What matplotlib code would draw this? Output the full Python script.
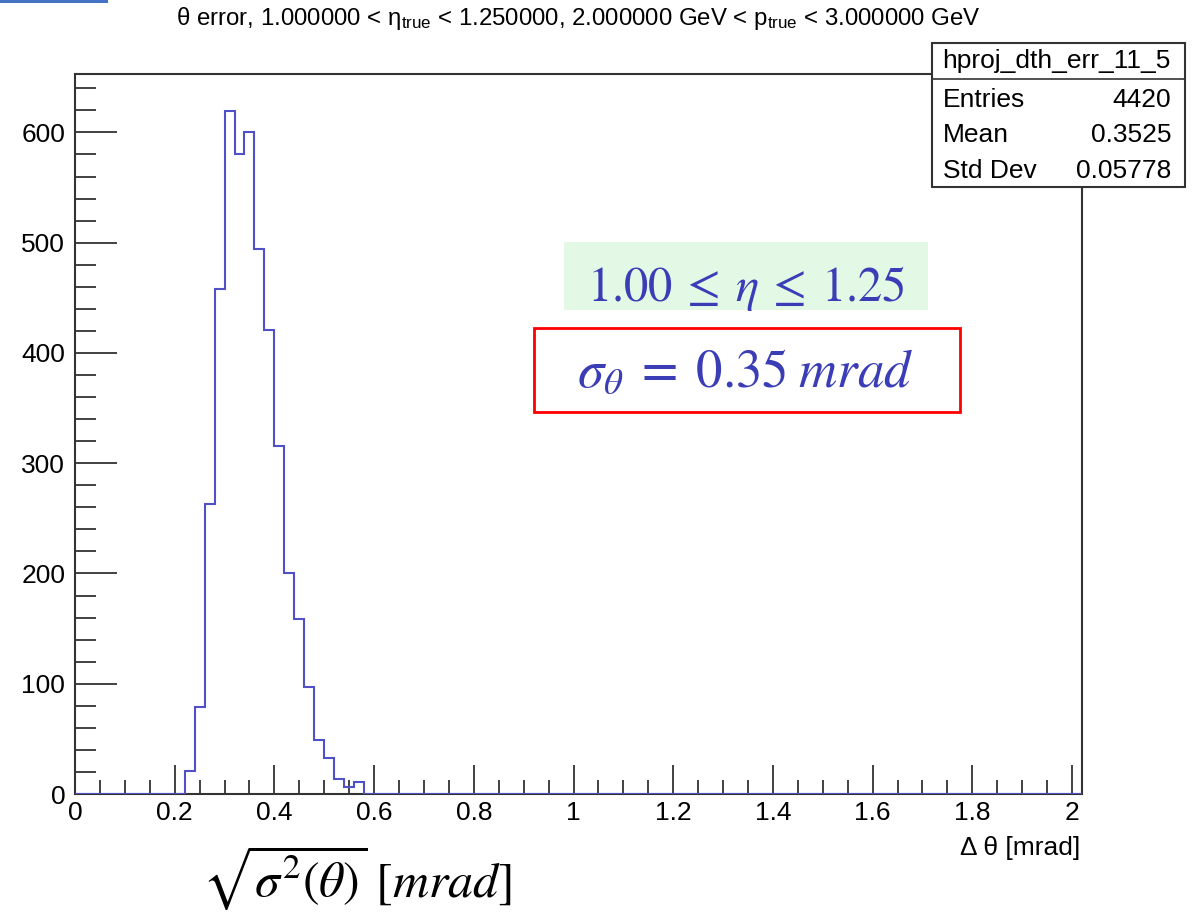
import numpy as np
from matplotlib import pyplot as plt
from matplotlib.patches import Rectangle
from matplotlib.lines import Line2D
from matplotlib.ticker import MultipleLocator

plt.rcParams['font.family'] = ['Liberation Sans', 'DejaVu Sans']

# histogram content (bin lower edge in mrad, counts), bin width 0.02
bin_lo = [0.22, 0.24, 0.26, 0.28, 0.30, 0.32, 0.34, 0.36, 0.38, 0.40,
          0.42, 0.44, 0.46, 0.48, 0.50, 0.52, 0.54, 0.56]
counts = [21, 79, 263, 458, 619, 580, 600, 494, 421, 316,
          200, 159, 97, 49, 33, 14, 6, 11]
n_bins = 101
bin_width = 0.02

stats_name = 'hproj_dth_err_11_5'
stats_rows = [('Entries', '4420'), ('Mean', '0.3525'), ('Std Dev', '0.05778')]

W, H = 1199, 915


def fx(px):
    return px / W


def fy(py):
    return 1 - py / H


fig = plt.figure(figsize=(W / 100, H / 100), dpi=100)
ax = fig.add_axes([fx(75), fy(794), fx(1082) - fx(75), fy(74) - fy(794)])

edges = np.arange(n_bins + 1) * bin_width
full = np.zeros(n_bins)
for lo, c in zip(bin_lo, counts):
    full[int(round(lo / bin_width))] = c
ax.stairs(full, edges, baseline=0, color='#5050c8', lw=1.5, zorder=3)

ax.set_xlim(0, 2.02)
ax.set_ylim(0, 653)
ax.xaxis.set_major_locator(MultipleLocator(0.2))
ax.xaxis.set_minor_locator(MultipleLocator(0.05))
ax.yaxis.set_major_locator(MultipleLocator(100))
ax.yaxis.set_minor_locator(MultipleLocator(20))
ax.xaxis.set_major_formatter(lambda v, p: f'{v:g}')
ax.tick_params(axis='both', which='both', direction='in', colors='#333333',
               labelcolor='black', labelsize=19, width=1.3)
ax.tick_params(axis='x', which='major', length=21, pad=5)
ax.tick_params(axis='x', which='minor', length=10)
ax.tick_params(axis='y', which='major', length=30, pad=7)
ax.tick_params(axis='y', which='minor', length=15)
for s in ax.spines.values():
    s.set_color('#333333')
    s.set_linewidth(1.5)

fig.text(0.482, fy(18),
         r'θ error, 1.000000 < $\mathregular{\eta_{true}}$ < 1.250000, '
         r'2.000000 GeV < $\mathregular{p_{true}}$ < 3.000000 GeV',
         ha='center', va='center', fontsize=17.3)

fig.text(fx(1080), fy(848), 'Δ θ [mrad]', ha='right', va='center', fontsize=19)

# stats box
fig.patches.append(Rectangle((fx(932), fy(187)), fx(1185) - fx(932), fy(43) - fy(187),
                             transform=fig.transFigure, facecolor='white',
                             edgecolor='#333333', lw=1.5, zorder=5))
fig.add_artist(Line2D([fx(932), fx(1185)], [fy(79), fy(79)], color='#333333',
                      lw=1.2, zorder=6))
fig.text(fx(1056), fy(61), stats_name, ha='center', va='center', fontsize=19, zorder=7)
for i, (k, v) in enumerate(stats_rows):
    y = fy(100 + 35.5 * i)
    fig.text(fx(943), y, k, ha='left', va='center', fontsize=19, zorder=7)
    fig.text(fx(1171), y, v, ha='right', va='center', fontsize=19, zorder=7)

# annotations
fig.patches.append(Rectangle((fx(564), fy(310)), fx(928) - fx(564), fy(242) - fy(310),
                             transform=fig.transFigure, facecolor='#e3f9e5',
                             edgecolor='none', zorder=4))
fig.text(fx(746), fy(288), r'$1.00\:\leq\:\eta\:\leq\:1.25$', ha='center', va='center',
         fontsize=35, color='#3a3db5', math_fontfamily='stix', zorder=7)
fig.patches.append(Rectangle((fx(534), fy(412)), fx(960) - fx(534), fy(328) - fy(412),
                             transform=fig.transFigure, facecolor='white',
                             edgecolor='#ff0000', lw=2, zorder=4))
fig.text(fx(745), fy(373), r'$\sigma_\theta\;=\;0.35\;mrad$', ha='center', va='center',
         fontsize=38, color='#3a3db5', math_fontfamily='stix', zorder=7)

fig.text(fx(357), fy(878), r'$\sqrt{\sigma^2(\theta)}\;[mrad]$', ha='center',
         va='center', fontsize=36, color='black', math_fontfamily='stix')

fig.patches.append(Rectangle((0, fy(3)), fx(108), fy(0) - fy(3),
                             transform=fig.transFigure, facecolor='#4472c4',
                             edgecolor='none'))

fig.savefig('out.png', dpi=100)
